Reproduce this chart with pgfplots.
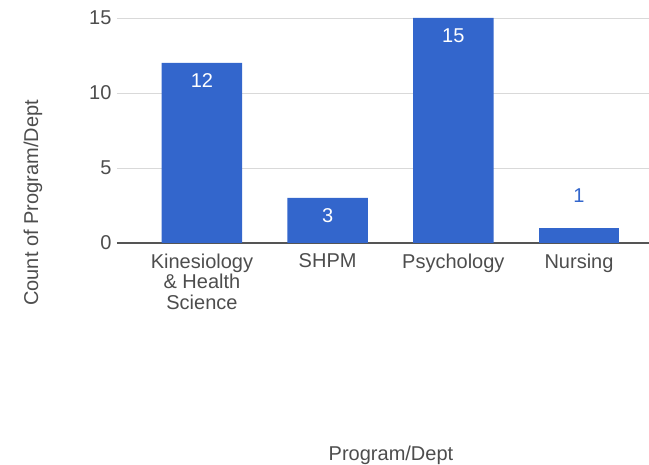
\documentclass[border=0pt]{standalone}
\usepackage{pgfplots}
\pgfplotsset{compat=1.18}
\usepackage{fontspec}
\setmainfont{Liberation Sans}
\definecolor{barblue}{HTML}{3366CC}
\definecolor{txtgray}{HTML}{4D4D4D}
\definecolor{gridgray}{HTML}{D9D9D9}
\definecolor{basegray}{HTML}{555555}
\begin{document}
\begin{tikzpicture}
\useasboundingbox (0,0) rectangle (649pt,465pt);
\begin{axis}[
  at={(117pt,222pt)}, anchor=south west,
  scale only axis, width=532pt, height=225pt,
  xmin=-0.676, xmax=3.557, ymin=0, ymax=15,
  xtick={0,1,2,3},
  xticklabels={{Kinesiology\\\& Health\\Science},SHPM,Psychology,Nursing},
  xticklabel style={align=center, text=txtgray, yshift=-7pt, font=\fontsize{20}{20.5}\selectfont},
  ytick={0,5,10,15},
  yticklabel style={text=txtgray, font=\fontsize{20}{21}\selectfont, xshift=-2pt},
  /pgf/number format/assume math mode=true,
  major tick length=0pt,
  axis x line*=bottom, axis y line*=left,
  x axis line style={draw=basegray, line width=1.3pt, -},
  y axis line style={draw=none},
  ymajorgrids, grid style={gridgray, line width=0.9pt},
  clip=false,
  xlabel={Program/Dept},
  xlabel style={at={(axis description cs:0.515,-0.942)}, anchor=center, text=txtgray, font=\fontsize{20}{21}\selectfont},
  ylabel={Count of Program/Dept},
  ylabel style={at={(axis description cs:-0.158,0.178)}, anchor=center, rotate=0, text=txtgray, font=\fontsize{20}{21}\selectfont},
]
\addplot[ybar, bar width=0.64, bar shift=0pt, fill=barblue, draw=none,
  nodes near coords, point meta=y,
  nodes near coords style={anchor=center, inner sep=0pt, yshift=-18pt, text=white, font=\fontsize{20}{21}\selectfont},
  /pgf/number format/assume math mode=true]
  coordinates {(0,12) (1,3) (2,15)};
\addplot[ybar, bar width=0.64, bar shift=0pt, fill=barblue, draw=none,
  nodes near coords, point meta=y,
  nodes near coords style={anchor=center, inner sep=0pt, yshift=32pt, text=barblue, font=\fontsize{20}{21}\selectfont},
  /pgf/number format/assume math mode=true]
  coordinates {(3,1)};
\end{axis}
\end{tikzpicture}
\end{document}
